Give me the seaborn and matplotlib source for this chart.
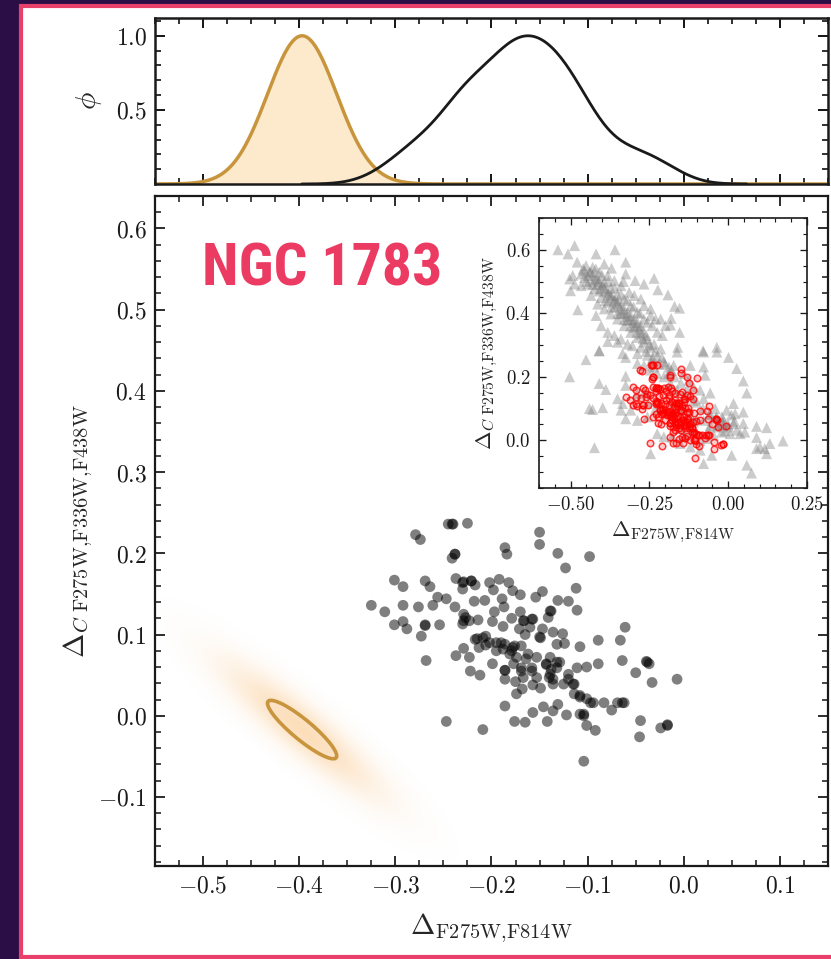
import numpy as np
import pandas as pd
import matplotlib
matplotlib.use("Agg")
import matplotlib.pyplot as plt
import seaborn as sns
from matplotlib.patches import Ellipse, Rectangle
from matplotlib.ticker import MultipleLocator, FuncFormatter
from matplotlib import font_manager

# ---------------------------------------------------------------------------
# Observed stars of NGC 1783 (pseudo-colour indices)
# ---------------------------------------------------------------------------
obs_dx = [-0.245, -0.241, -0.225, -0.279, -0.274, -0.150, -0.150, -0.186, -0.184, -0.238, -0.241, -0.131, -0.098, -0.123,
          -0.301, -0.292, -0.269, -0.264, -0.237, -0.229, -0.221, -0.217, -0.230, -0.202, -0.198, -0.192, -0.182, -0.178,
          -0.170, -0.154, -0.147, -0.112,
          -0.256, -0.247, -0.218, -0.207, -0.189, -0.187, -0.131, -0.120, -0.111, -0.325, -0.311, -0.292, -0.276, -0.261,
          -0.238, -0.229, -0.227, -0.197, -0.170, -0.138, -0.141,
          -0.301, -0.292, -0.288, -0.269, -0.273, -0.254, -0.230, -0.223, -0.214, -0.199, -0.188, -0.179, -0.166, -0.158,
          -0.147, -0.136, -0.126, -0.061, -0.089, -0.066, -0.215, -0.206, -0.195, -0.186, -0.178, -0.169, -0.165, -0.149,
          -0.229, -0.237, -0.223, -0.213, -0.206, -0.188, -0.179, -0.162, -0.153, -0.139, -0.132, -0.124, -0.108,
          -0.268, -0.222, -0.212, -0.199, -0.186, -0.177, -0.169, -0.158, -0.143, -0.138, -0.132, -0.120, -0.111, -0.101,
          -0.089, -0.064, -0.039, -0.036, -0.050, -0.033, -0.007,
          -0.186, -0.175, -0.167, -0.157, -0.149, -0.140, -0.136, -0.125, -0.114, -0.174, -0.168, -0.114, -0.108, -0.101,
          -0.094, -0.083, -0.069, -0.064, -0.075,
          -0.186, -0.157, -0.146, -0.136, -0.131, -0.122, -0.108, -0.104,
          -0.247, -0.209, -0.176, -0.165, -0.142, -0.101, -0.092, -0.045, -0.046, -0.024, -0.017, -0.104,
          -0.229, -0.217, -0.190, -0.176, -0.167, -0.157, -0.150, -0.139, -0.186, -0.169, -0.158, -0.143, -0.139,
          -0.115, -0.104, -0.062, -0.038, -0.240, -0.238, -0.269, -0.017, -0.230, -0.221, -0.174, -0.164, -0.181,
          -0.195, -0.132, -0.129, -0.153, -0.136, -0.120, -0.108, -0.097, -0.209, -0.202, -0.171, -0.160]
obs_dc = [0.236, 0.236, 0.237, 0.223, 0.217, 0.226, 0.211, 0.207, 0.199, 0.199, 0.194, 0.200, 0.196, 0.182,
          0.167, 0.159, 0.166, 0.159, 0.169, 0.165, 0.166, 0.161, 0.156, 0.164, 0.155, 0.168, 0.164, 0.154,
          0.149, 0.146, 0.153, 0.157,
          0.146, 0.144, 0.141, 0.142, 0.144, 0.134, 0.142, 0.141, 0.130, 0.136, 0.128, 0.136, 0.134, 0.136,
          0.134, 0.125, 0.121, 0.128, 0.128, 0.129, 0.121,
          0.112, 0.116, 0.107, 0.112, 0.098, 0.112, 0.113, 0.117, 0.118, 0.116, 0.110, 0.120, 0.117, 0.119,
          0.107, 0.103, 0.101, 0.109, 0.093, 0.093, 0.095, 0.098, 0.090, 0.088, 0.084, 0.086, 0.100, 0.096,
          0.083, 0.074, 0.072, 0.084, 0.087, 0.082, 0.080, 0.076, 0.072, 0.072, 0.088, 0.089, 0.085,
          0.068, 0.055, 0.050, 0.064, 0.056, 0.064, 0.055, 0.059, 0.064, 0.057, 0.066, 0.051, 0.059, 0.060,
          0.064, 0.068, 0.067, 0.064, 0.053, 0.041, 0.045,
          0.045, 0.042, 0.047, 0.038, 0.034, 0.047, 0.039, 0.039, 0.039, 0.027, 0.033, 0.027, 0.025, 0.021,
          0.016, 0.016, 0.016, 0.016, 0.007,
          0.012, 0.004, 0.011, 0.006, 0.014, 0.001, 0.002, 0.000,
          -0.007, -0.017, -0.007, -0.008, -0.007, -0.012, -0.018, -0.006, -0.026, -0.015, -0.011, -0.056,
          0.117, 0.094, 0.090, 0.086, 0.117, 0.119, 0.097, 0.129, 0.056, 0.059, 0.055, 0.063, 0.051,
          0.039, 0.002, 0.016, 0.066, 0.236, 0.199, 0.111, -0.012, 0.164, 0.166, 0.072, 0.070, 0.076,
          0.080, 0.059, 0.066, 0.047, 0.045, 0.045, 0.023, 0.016, 0.096, 0.090, 0.107, 0.109]

# Comparison sample shown in the inset (grey triangles)
ref_dx = [-0.540, -0.487, -0.508, -0.419, -0.359, -0.325, -0.393, -0.370, -0.235, -0.223, -0.191, -0.170, -0.154,
          -0.181, -0.183, -0.154, -0.160, -0.080, -0.036, -0.409, -0.382, -0.351, -0.500, -0.477, -0.503, -0.479,
          -0.456, -0.267, -0.295, -0.325, -0.332, -0.466, -0.445, -0.430, -0.414, -0.403, -0.393, -0.382, -0.372,
          -0.361, -0.351, -0.340, -0.330, -0.319, -0.309, -0.298, -0.288, -0.277, -0.267, -0.256, -0.246, -0.241,
          -0.288, -0.309, -0.330, -0.351, -0.372, -0.393, -0.414, -0.435, -0.456, -0.424, -0.403, -0.382, -0.361,
          -0.340, -0.319, -0.298, -0.277, -0.256, -0.235, -0.214, -0.445, -0.466, -0.435, -0.414, -0.393, -0.372,
          -0.351, -0.330, -0.309, -0.288, -0.267, -0.246, -0.230, -0.214, -0.199, -0.246, -0.267, -0.277, -0.298,
          -0.314, -0.340, -0.361, -0.382, -0.409, -0.430, -0.451, -0.493, -0.487, -0.419, -0.403, -0.382, -0.361,
          -0.340, -0.319, -0.304, -0.277, -0.209, -0.225,
          -0.451, -0.409, -0.335, -0.325, -0.288, -0.256, -0.241, -0.225, -0.204, -0.235, -0.188, -0.162, -0.120,
          -0.078, -0.078, -0.036, 0.001, 0.027, -0.503, -0.409, -0.388, -0.325, -0.325, 0.048, 0.059, -0.073,
          -0.110, -0.089, -0.057, -0.351, -0.335, -0.288, -0.267, -0.309, -0.340, -0.325, -0.256, -0.230, -0.256,
          -0.398, -0.440, -0.430, -0.288, -0.110, -0.078, -0.041, -0.020, -0.005, 0.017, 0.022, 0.048, -0.015,
          0.017, 0.027, 0.038, 0.053, -0.036, -0.057, -0.062, 0.006, 0.048, 0.090, 0.122, 0.090, 0.101, 0.116,
          0.122, 0.174, 0.132, 0.090, 0.011, -0.078, 0.059, 0.074, -0.424, -0.246, -0.052, -0.089, -0.120, -0.152,
          -0.141, -0.120, -0.110, -0.152, -0.204, -0.225, -0.178, -0.183, -0.162, -0.141, -0.120, -0.099, -0.078,
          -0.057, -0.036, -0.015, 0.001, -0.020, -0.046, -0.067, -0.089, -0.141, -0.162, -0.183, -0.204, -0.225,
          -0.246, -0.267, -0.288, -0.173, -0.141, -0.125,
          -0.46, -0.44, -0.43, -0.42, -0.41, -0.40, -0.39, -0.38, -0.37, -0.36, -0.35, -0.34, -0.33, -0.32,
          -0.31, -0.30, -0.29, -0.28, -0.27, -0.26, -0.45, -0.43, -0.41, -0.39, -0.37, -0.35, -0.33, -0.31,
          -0.29, -0.27, -0.42, -0.40, -0.38, -0.36, -0.34, -0.32, -0.30, -0.28,
          -0.25, -0.23, -0.21, -0.20, -0.18, -0.17, -0.15, -0.13, -0.12, -0.10, -0.08, -0.06, -0.04, -0.02,
          0.00, 0.02, 0.01, -0.01, -0.03, -0.24, -0.22, -0.19, -0.26]
ref_dc = [0.600, 0.613, 0.587, 0.587, 0.600, 0.561, 0.555, 0.542, 0.510, 0.474, 0.458, 0.422, 0.416,
          0.384, 0.363, 0.340, 0.293, 0.282, 0.293, 0.282, 0.311, 0.309, 0.471, 0.411, 0.508, 0.561,
          0.534, 0.492, 0.503, 0.524, 0.500, 0.524, 0.519, 0.503, 0.492, 0.477, 0.482, 0.466, 0.456,
          0.445, 0.435, 0.424, 0.414, 0.403, 0.393, 0.382, 0.372, 0.361, 0.382, 0.372, 0.393, 0.361,
          0.403, 0.424, 0.445, 0.456, 0.477, 0.497, 0.508, 0.529, 0.513, 0.477, 0.450, 0.435, 0.419,
          0.398, 0.377, 0.356, 0.335, 0.319, 0.303, 0.288, 0.492, 0.487, 0.456, 0.429, 0.414, 0.398,
          0.382, 0.361, 0.340, 0.324, 0.309, 0.293, 0.382, 0.382, 0.361, 0.414, 0.424, 0.445, 0.456,
          0.466, 0.487, 0.503, 0.519, 0.529, 0.545, 0.550, 0.519, 0.492, 0.393, 0.361, 0.340, 0.330,
          0.319, 0.303, 0.298, 0.293, 0.330, 0.340,
          0.254, 0.282, 0.273, 0.261, 0.273, 0.268, 0.252, 0.263, 0.247, 0.231, 0.231, 0.278, 0.236,
          0.278, 0.231, 0.278, 0.261, 0.226, 0.200, 0.179, 0.160, 0.202, 0.173, 0.187, 0.149, 0.205,
          0.168, 0.158, 0.149, 0.131, 0.116, 0.147, 0.152, 0.095, 0.095, 0.068, 0.116, 0.100, 0.074,
          0.103, 0.100, 0.097, 0.063, 0.126, 0.131, 0.100, 0.074, 0.095, 0.116, 0.084, 0.089, 0.047,
          0.053, 0.032, 0.021, 0.026, 0.042, 0.047, 0.032, 0.021, 0.053, 0.044, 0.040, 0.009, -0.021, -0.026,
          -0.042, -0.002, -0.010, -0.026, -0.047, -0.073, -0.078, -0.103, -0.023, -0.042, -0.047, -0.031, -0.021, -0.010,
          0.011, 0.026, 0.058, 0.037, 0.011, 0.021, 0.011, 0.116, 0.105, 0.095, 0.079, 0.068, 0.063,
          0.084, 0.074, 0.063, 0.042, 0.026, 0.016, 0.006, 0.000, 0.137, 0.158, 0.179, 0.200, 0.210,
          0.221, 0.236, 0.242, 0.236, 0.210, 0.189,
          0.54, 0.53, 0.52, 0.51, 0.50, 0.49, 0.47, 0.46, 0.45, 0.44, 0.43, 0.41, 0.40, 0.39,
          0.38, 0.37, 0.36, 0.35, 0.34, 0.33, 0.50, 0.49, 0.47, 0.44, 0.42, 0.40, 0.38, 0.36,
          0.34, 0.32, 0.54, 0.52, 0.50, 0.48, 0.46, 0.44, 0.42, 0.40,
          0.30, 0.28, 0.26, 0.24, 0.22, 0.20, 0.18, 0.16, 0.14, 0.12, 0.10, 0.08, 0.07, 0.06,
          0.05, 0.06, 0.08, 0.03, 0.05, 0.26, 0.24, 0.21, 0.28]

# Simulated single population: centre, dispersions and correlation
cloud_center_x = -0.397
cloud_center_y = -0.017
cloud_sigma_x = 0.036
cloud_sigma_y = 0.036
cloud_rho = -0.90

# Axis ticks
main_xticks = [-0.5, -0.4, -0.3, -0.2, -0.1, 0.0, 0.1]
main_yticks = [-0.1, 0.0, 0.1, 0.2, 0.3, 0.4, 0.5, 0.6]
top_yticks = [0.5, 1.0]
inset_xticks = [-0.50, -0.25, 0.00, 0.25]
inset_yticks = [0.0, 0.2, 0.4, 0.6]

XLABEL = r"$\Delta_{\rm F275W{,}F814W}$"
YLABEL = r"$\Delta_{C\ \rm F275W{,}F336W{,}F438W}$"

# ---------------------------------------------------------------------------
sns.set_theme(style="ticks")
plt.rcParams.update({
    "font.family": ["DejaVu Serif"],
    "mathtext.fontset": "cm",
    "axes.edgecolor": "#1a1a1a",
    "xtick.direction": "in",
    "ytick.direction": "in",
    "xtick.top": True,
    "ytick.right": True,
    "xtick.color": "#1a1a1a",
    "ytick.color": "#1a1a1a",
})

W, H = 831, 959
fig = plt.figure(figsize=(W / 100, H / 100), dpi=100)
fig.patch.set_facecolor("#2b0e45")
fig.add_artist(Rectangle((20.5 / W, 2.0 / H), 1.2, (H - 7.5) / H, transform=fig.transFigure,
                         facecolor="white", edgecolor="#e8406a", linewidth=3, zorder=-10))

ax_top = fig.add_axes([155 / W, (H - 184) / H, 673 / W, 166 / H])
ax = fig.add_axes([155 / W, (H - 866) / H, 673 / W, 670 / H])
ax_in = fig.add_axes([539 / W, (H - 488) / H, 268 / W, 270 / H])


def math_fmt(decimals):
    return FuncFormatter(lambda v, pos: "$%.*f$" % (decimals, v))


def style_axis(a, lw, major, minor, size):
    for s in a.spines.values():
        s.set_linewidth(lw)
        s.set_color("#1a1a1a")
    a.tick_params(which="major", length=major, width=lw * 0.8, labelsize=size, pad=6)
    a.tick_params(which="minor", length=minor, width=lw * 0.7)
    a.tick_params(which="both", top=True, right=True, direction="in")


XMIN, XMAX = -0.55, 0.15
YMIN, YMAX = -0.185, 0.64

# --- main panel --------------------------------------------------------------
cov = np.array([[cloud_sigma_x ** 2, cloud_rho * cloud_sigma_x * cloud_sigma_y],
                [cloud_rho * cloud_sigma_x * cloud_sigma_y, cloud_sigma_y ** 2]])
icov = np.linalg.inv(cov)
gx = np.linspace(XMIN, XMAX, 700)
gy = np.linspace(YMIN, YMAX, 800)
GX, GY = np.meshgrid(gx, gy)
DX, DY = GX - cloud_center_x, GY - cloud_center_y
q = icov[0, 0] * DX ** 2 + 2 * icov[0, 1] * DX * DY + icov[1, 1] * DY ** 2
rgba = np.zeros(GX.shape + (4,))
rgba[..., 0], rgba[..., 1], rgba[..., 2] = 0.97, 0.64, 0.25
rgba[..., 3] = 0.36 * np.exp(-0.22 * q)
ax.imshow(rgba, extent=[XMIN, XMAX, YMIN, YMAX], origin="lower", aspect="auto",
          interpolation="bilinear", zorder=1)

evals, evecs = np.linalg.eigh(cov)
angle = np.degrees(np.arctan2(evecs[1, 1], evecs[0, 1]))
ax.add_patch(Ellipse((cloud_center_x, cloud_center_y), 2 * np.sqrt(evals[1]), 2 * np.sqrt(evals[0]),
                     angle=angle, facecolor="none", edgecolor="#c8953d", linewidth=2.6, zorder=3))

obs = pd.DataFrame({"dx": obs_dx, "dc": obs_dc})
sns.scatterplot(data=obs, x="dx", y="dc", ax=ax, color="black", alpha=0.5, s=60,
                edgecolor="none", linewidth=0, zorder=4, legend=False)

ax.set_xlim(XMIN, XMAX)
ax.set_ylim(YMIN, YMAX)
ax.set_xticks(main_xticks)
ax.set_yticks(main_yticks)
ax.xaxis.set_minor_locator(MultipleLocator(0.025))
ax.yaxis.set_minor_locator(MultipleLocator(0.02))
ax.xaxis.set_major_formatter(math_fmt(1))
ax.yaxis.set_major_formatter(math_fmt(1))
style_axis(ax, 1.6, 7, 4, 17)
ax.set_xlabel(XLABEL, fontsize=21, labelpad=10)
ax.set_ylabel(YLABEL, fontsize=21, labelpad=2)

names = {f.name for f in font_manager.fontManager.ttflist}
title_family = next((f for f in ["Liberation Sans Narrow", "Roboto Condensed", "Open Sans Condensed"]
                     if f in names), "DejaVu Sans")
fig.text(202 / W, (H - 285) / H, "NGC 1783", family=[title_family, "DejaVu Sans"], weight="bold",
         fontsize=43, color="#eb3b62", ha="left", va="baseline")

# --- top panel: normalised distributions along Delta_F275W,F814W -------------
phi_x = np.linspace(XMIN, XMAX, 600)
sim = pd.DataFrame({"x": phi_x, "phi": np.exp(-0.5 * ((phi_x - cloud_center_x) / cloud_sigma_x) ** 2)})
ax_top.fill_between(sim["x"], 0, sim["phi"], color="#fde9cb", zorder=1)
sns.lineplot(data=sim, x="x", y="phi", ax=ax_top, color="#c8953d", linewidth=2.5, zorder=2)

sns.kdeplot(x=obs_dx, ax=ax_top, color="#1a1a1a", linewidth=2.0, bw_adjust=1.05, zorder=3)
kde_line = ax_top.lines[-1]
ky = np.asarray(kde_line.get_ydata())
kde_line.set_ydata(ky / ky.max())

ax_top.set_xlim(XMIN, XMAX)
ax_top.set_ylim(0, 1.12)
ax_top.set_xticks(main_xticks)
ax_top.xaxis.set_minor_locator(MultipleLocator(0.025))
ax_top.set_yticks(top_yticks)
ax_top.yaxis.set_minor_locator(MultipleLocator(0.1))
ax_top.yaxis.set_major_formatter(math_fmt(1))
style_axis(ax_top, 1.8, 7, 4, 17)
ax_top.tick_params(labelbottom=False)
ax_top.set_xlabel("")
ax_top.set_ylabel(r"$\phi$", fontsize=21, labelpad=8)

# --- inset: comparison sample ------------------------------------------------
ref = pd.DataFrame({"dx": ref_dx, "dc": ref_dc})
sns.scatterplot(data=ref, x="dx", y="dc", ax=ax_in, marker="^", color="#7a7a7a", alpha=0.38,
                s=62, edgecolor="none", linewidth=0, zorder=2, legend=False)
ax_in.scatter(obs["dx"], obs["dc"], s=22, facecolor=(1, 0, 0, 0.2), edgecolor=(1, 0, 0, 0.75),
              linewidth=1.1, zorder=3)
ax_in.set_xlim(-0.6, 0.25)
ax_in.set_ylim(-0.15, 0.70)
ax_in.set_xticks(inset_xticks)
ax_in.set_yticks(inset_yticks)
ax_in.xaxis.set_minor_locator(MultipleLocator(0.05))
ax_in.yaxis.set_minor_locator(MultipleLocator(0.05))
ax_in.xaxis.set_major_formatter(math_fmt(2))
ax_in.yaxis.set_major_formatter(math_fmt(1))
style_axis(ax_in, 1.2, 5, 3, 13.5)
ax_in.set_xlabel(XLABEL, fontsize=16, labelpad=4)
ax_in.set_ylabel(YLABEL, fontsize=16, labelpad=4)

fig.savefig("out.png", dpi=100, facecolor=fig.get_facecolor())
